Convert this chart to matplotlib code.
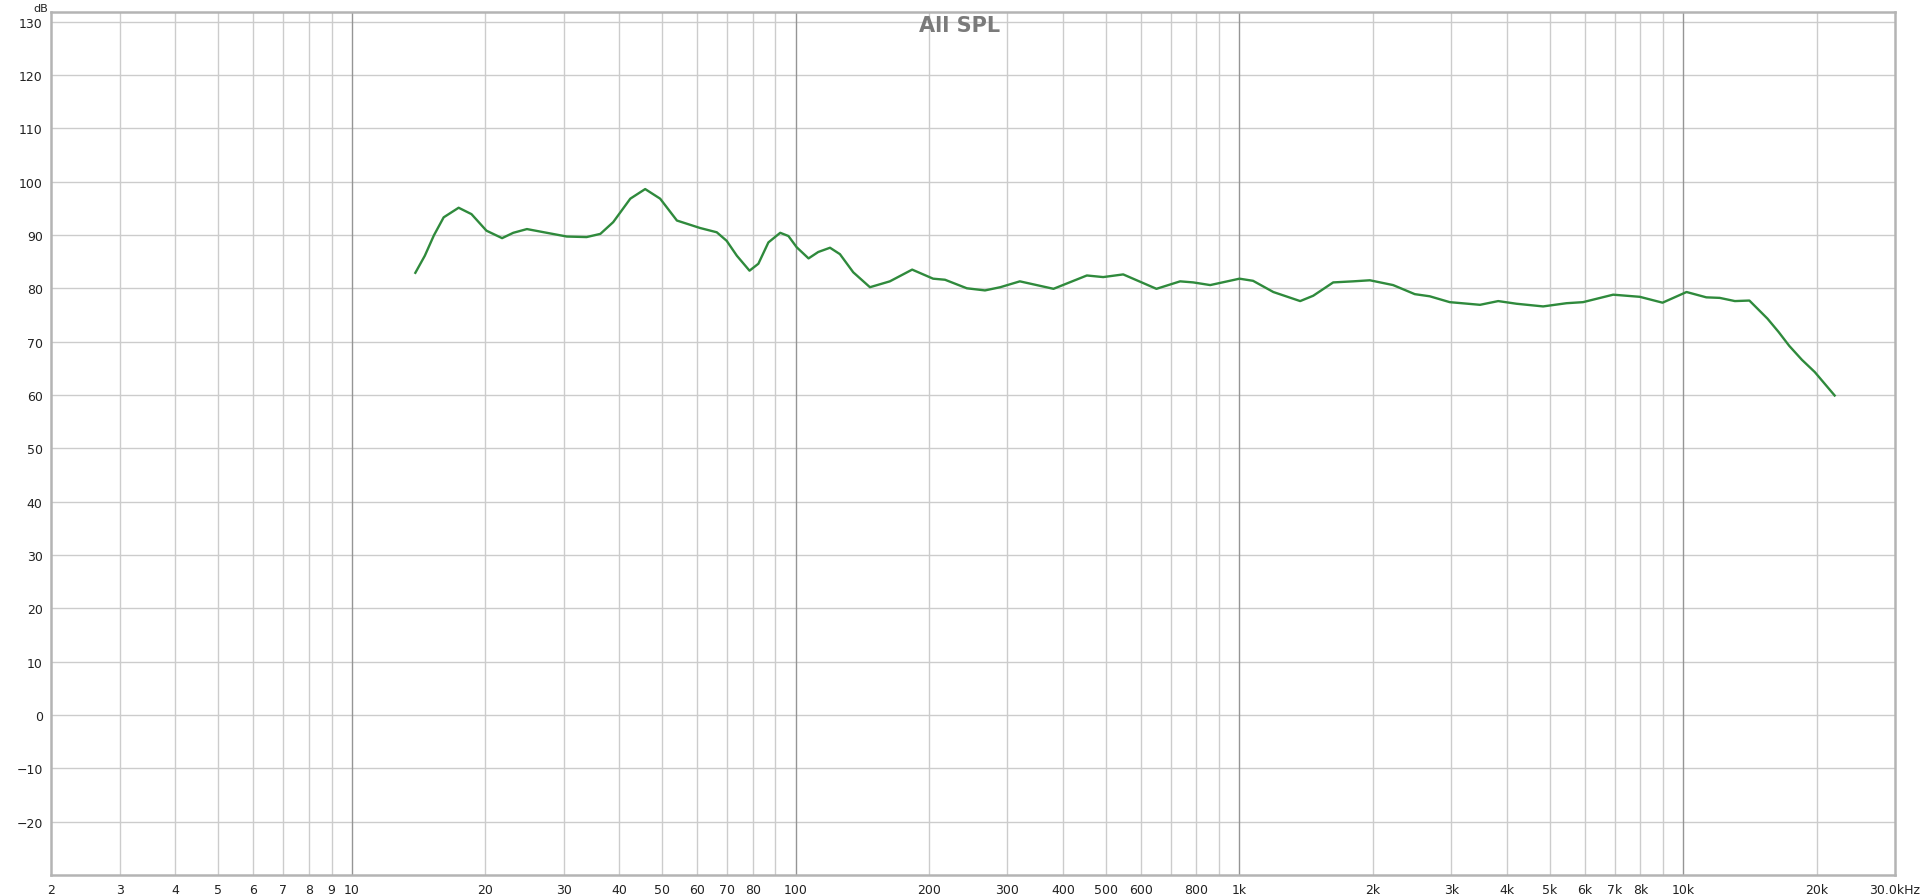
import matplotlib
matplotlib.use("Agg")
import matplotlib.pyplot as plt

# SPL response (Hz, dB)
freq = [13.9, 14.6, 15.3, 16.1, 17.4, 18.6, 20.1, 21.8, 23.1, 24.8, 27.5, 30.5,
        33.8, 36.3, 38.8, 42.4, 45.8, 49.5, 54.0, 60.9, 66.4, 69.9, 73.7, 78.7,
        82.4, 86.8, 92.3, 96.3, 100.5, 106.9, 112.4, 119.5, 125.8, 134.8, 147,
        163, 183, 204, 217, 243, 267, 289, 320, 381, 453, 493, 547, 650, 735,
        787, 859, 1000, 1073, 1192, 1370, 1466, 1626, 1803, 1967, 2219, 2483,
        2683, 2977, 3483, 3828, 4210, 4832, 5455, 5944, 6950, 7980, 8980,
        10170, 11270, 12080, 13070, 14090, 15480, 16400, 17330, 18500, 19780,
        21930]
spl = [82.9, 86.1, 89.9, 93.3, 95.1, 93.9, 90.8, 89.4, 90.4, 91.1, 90.4, 89.7,
       89.6, 90.2, 92.4, 96.8, 98.6, 96.8, 92.7, 91.3, 90.5, 88.9, 86.1, 83.3,
       84.6, 88.6, 90.4, 89.8, 87.7, 85.6, 86.8, 87.6, 86.4, 83.0, 80.2,
       81.3, 83.5, 81.8, 81.6, 80.0, 79.6, 80.2, 81.3, 79.9, 82.4, 82.1, 82.6,
       79.9, 81.3, 81.1, 80.6, 81.8, 81.4, 79.3, 77.6, 78.6, 81.1, 81.3, 81.5,
       80.6, 78.9, 78.5, 77.4, 76.9, 77.6, 77.1, 76.6, 77.2, 77.4, 78.8, 78.4,
       77.3, 79.3, 78.3, 78.2, 77.6, 77.7, 74.3, 71.8, 69.2, 66.6, 64.3, 59.9]

x_ticks = [2.1, 3, 4, 5, 6, 7, 8, 9, 10, 20, 30, 40, 50, 60, 70, 80, 100, 200,
           300, 400, 500, 600, 800, 1000, 2000, 3000, 4000, 5000, 6000, 7000,
           8000, 10000, 20000, 30000]
x_labels = ["2", "3", "4", "5", "6", "7", "8", "9", "10", "20", "30", "40", "50",
            "60", "70", "80", "100", "200", "300", "400", "500", "600", "800",
            "1k", "2k", "3k", "4k", "5k", "6k", "7k", "8k", "10k", "20k",
            "30.0kHz"]
minor_grid = [3, 4, 5, 6, 7, 8, 9, 20, 30, 40, 50, 60, 70, 80, 90, 200, 300,
              400, 500, 600, 700, 800, 900, 2000, 3000, 4000, 5000, 6000, 7000,
              8000, 9000, 20000]
major_grid = [10, 100, 1000, 10000]
y_ticks = list(range(-20, 131, 10))

fig = plt.figure(figsize=(19.2, 8.95), dpi=100)
ax = fig.add_axes([0.0266, 0.0212, 0.9604, 0.9643])
ax.set_xscale("log")
ax.set_xlim(2.1, 30000)
ax.set_ylim(-30, 131.8)

for v in y_ticks:
    ax.axhline(v, color="#cccccc", lw=1.0, zorder=1)
for f in minor_grid:
    ax.axvline(f, color="#cccccc", lw=1.0, zorder=1)
for f in major_grid:
    ax.axvline(f, color="#959595", lw=1.0, zorder=1)

ax.plot(freq, spl, color="#2f8a3c", lw=1.7, zorder=3, solid_joinstyle="round")

ax.set_xticks(x_ticks)
ax.set_xticklabels(x_labels)
ax.minorticks_off()
ax.set_yticks(y_ticks)
ax.tick_params(length=0, labelsize=9, colors="#222222", pad=6)
for s in ax.spines.values():
    s.set_color("#b4b4b4")
    s.set_linewidth(1.8)

fig.text(0.5, 0.971, "All SPL", ha="center", va="center", fontsize=15,
         fontweight="bold", color="#7a7a7a")
fig.text(0.021, 0.996, "dB", ha="center", va="top", fontsize=8, color="#222222")

fig.savefig("out.png", dpi=100)
